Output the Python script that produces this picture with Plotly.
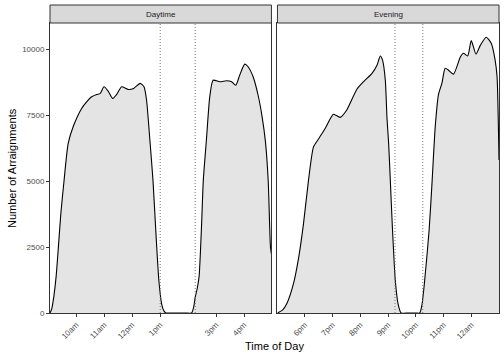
import plotly.graph_objects as go

# ---- data (hours of day, counts) ----
day_hours = [9.06, 9.12, 9.20, 9.28, 9.36, 9.45, 9.56, 9.71, 9.90, 10.19, 10.40, 10.55, 10.73,
             10.85, 10.99, 11.15, 11.30, 11.45, 11.62, 11.86, 12.05, 12.28, 12.42, 12.51,
             12.63, 12.74, 12.84, 12.95, 13.05, 13.12, 13.20, 13.40, 13.90, 14.12,
             14.20, 14.25, 14.32, 14.39, 14.47, 14.54, 14.65, 14.77, 14.89, 15.13, 15.37,
             15.55, 15.70, 15.84, 16.02, 16.14, 16.32, 16.50, 16.64, 16.76, 16.86, 16.94, 16.98]
day_counts = [0, 150, 650, 1400, 2500, 3800, 5000, 6430, 7100, 7760, 8050, 8200, 8290,
              8320, 8580, 8400, 8140, 8300, 8580, 8480, 8520, 8710, 8580, 8080,
              6560, 5040, 3140, 1240, 350, 100, 0, 0, 0, 0,
              250, 600, 920, 1400, 3140, 5040, 6560, 8200, 8830, 8770, 8810,
              8770, 8640, 9020, 9440, 9340, 8960, 8250, 7450, 6500, 5000, 2500, 2200]

eve_hours = [17.01, 17.20, 17.35, 17.59, 17.77, 17.95, 18.13, 18.31, 18.49, 18.73, 19.03,
             19.27, 19.51, 19.87, 20.11, 20.42, 20.60, 20.72, 20.80, 20.90, 20.96, 21.02,
             21.08, 21.16, 21.26, 21.36, 21.47, 21.70, 22.00, 22.14, 22.22, 22.32, 22.48,
             22.59, 22.70, 22.82, 22.94, 23.06, 23.18, 23.36, 23.61, 23.72, 23.87, 24.00,
             24.17, 24.33, 24.54, 24.72, 24.86, 24.93, 25.00]
eve_counts = [0, 120, 360, 1120, 2070, 3390, 5040, 6300, 6600, 7000, 7540,
              7420, 7700, 8480, 8770, 9090, 9400, 9750, 9590, 8830, 7400, 6430,
              5040, 3140, 1240, 350, 0, 0, 0, 0, 300, 1240, 3140,
              5040, 7060, 8300, 8710, 9280, 9210, 9060, 9720, 9850, 9750, 10330,
              9820, 10160, 10460, 10230, 9590, 8960, 5800]

panels = ["Daytime", "Evening"]
day_tickvals = [10, 11, 12, 13, 15, 16]
day_ticktext = ["10am", "11am", "12pm", "1pm", "3pm", "4pm"]
eve_tickvals = [18, 19, 20, 21, 22, 23, 24]
eve_ticktext = ["6pm", "7pm", "8pm", "9pm", "10pm", "11pm", "12am"]
day_vlines = [13.0, 14.25]
eve_vlines = [21.25, 22.25]
y_ticks = [0, 2500, 5000, 7500, 10000]
day_range = [9.06, 16.975]
eve_range = [17.01, 25.0]
y_range = [0, 11000]

FONT = "Liberation Sans, Arial, sans-serif"
FILL = "#E4E4E4"

fig = go.Figure()
fig.add_trace(go.Scatter(x=day_hours, y=day_counts, mode="lines", fill="tozeroy",
                         fillcolor=FILL, line=dict(color="black", width=1.1, shape="spline", smoothing=0.6),
                         xaxis="x", yaxis="y", showlegend=False, hoverinfo="skip"))
fig.add_trace(go.Scatter(x=eve_hours, y=eve_counts, mode="lines", fill="tozeroy",
                         fillcolor=FILL, line=dict(color="black", width=1.1, shape="spline", smoothing=0.6),
                         xaxis="x2", yaxis="y2", showlegend=False, hoverinfo="skip"))

# vertical dotted lines
for xv in day_vlines:
    fig.add_trace(go.Scatter(x=[xv, xv], y=y_range, mode="lines",
                             line=dict(color="#777777", width=1, dash="1px,2px"),
                             xaxis="x", yaxis="y", showlegend=False, hoverinfo="skip"))
for xv in eve_vlines:
    fig.add_trace(go.Scatter(x=[xv, xv], y=y_range, mode="lines",
                             line=dict(color="#777777", width=1, dash="1px,2px"),
                             xaxis="x2", yaxis="y2", showlegend=False, hoverinfo="skip"))

W, H = 504, 360
ml, mr, mt, mb = 50, 5.3, 23, 47
pw = W - ml - mr
d1 = [0, 221.3 / pw]
d2 = [227.3 / pw, 1]

axis_common = dict(showgrid=False, zeroline=False, showline=True, mirror=True,
                   linecolor="#333333", linewidth=1, ticks="outside", ticklen=3,
                   tickcolor="#333333", tickwidth=1,
                   tickfont=dict(family=FONT, size=8, color="#4D4D4D"))

fig.update_layout(
    width=W, height=H,
    margin=dict(l=ml, r=mr, t=mt, b=mb),
    paper_bgcolor="white", plot_bgcolor="white",
    hovermode=False,
    xaxis=dict(domain=d1, range=day_range, tickvals=day_tickvals, ticktext=day_ticktext,
               tickangle=-45, anchor="y", **axis_common),
    xaxis2=dict(domain=d2, range=eve_range, tickvals=eve_tickvals, ticktext=eve_ticktext,
                tickangle=-45, anchor="y2", **axis_common),
    yaxis=dict(domain=[0, 1], range=y_range, tickvals=y_ticks,
               ticktext=[str(v) for v in y_ticks], anchor="x", **axis_common),
    yaxis2=dict(domain=[0, 1], range=y_range, tickvals=y_ticks, showticklabels=False,
                anchor="x2", **{**axis_common, "ticks": ""}),
)

strip_h = 18 / (H - mt - mb)
for dom, label in zip([d1, d2], panels):
    fig.add_shape(type="rect", xref="paper", yref="paper", x0=dom[0], x1=dom[1],
                  y0=1, y1=1 + strip_h, fillcolor="#D9D9D9",
                  line=dict(color="#333333", width=1), layer="above")
    fig.add_annotation(xref="paper", yref="paper", x=(dom[0] + dom[1]) / 2,
                       y=1 + strip_h / 2, text=label, showarrow=False,
                       font=dict(family=FONT, size=8, color="#1A1A1A"),
                       xanchor="center", yanchor="middle")

fig.add_annotation(xref="paper", yref="paper", x=0.5, y=0, yshift=-33,
                   text="Time of Day", showarrow=False, xanchor="center", yanchor="middle",
                   font=dict(family=FONT, size=11, color="black"))
fig.add_annotation(xref="paper", yref="paper", x=0, xshift=-38, y=0.5,
                   text="Number of Arraignments", showarrow=False, textangle=-90,
                   xanchor="center", yanchor="middle",
                   font=dict(family=FONT, size=11, color="black"))

fig.write_html("out.html", config={"displayModeBar": False, "staticPlot": True},
               post_script="document.body.style.margin='0';document.body.style.padding='0';")
